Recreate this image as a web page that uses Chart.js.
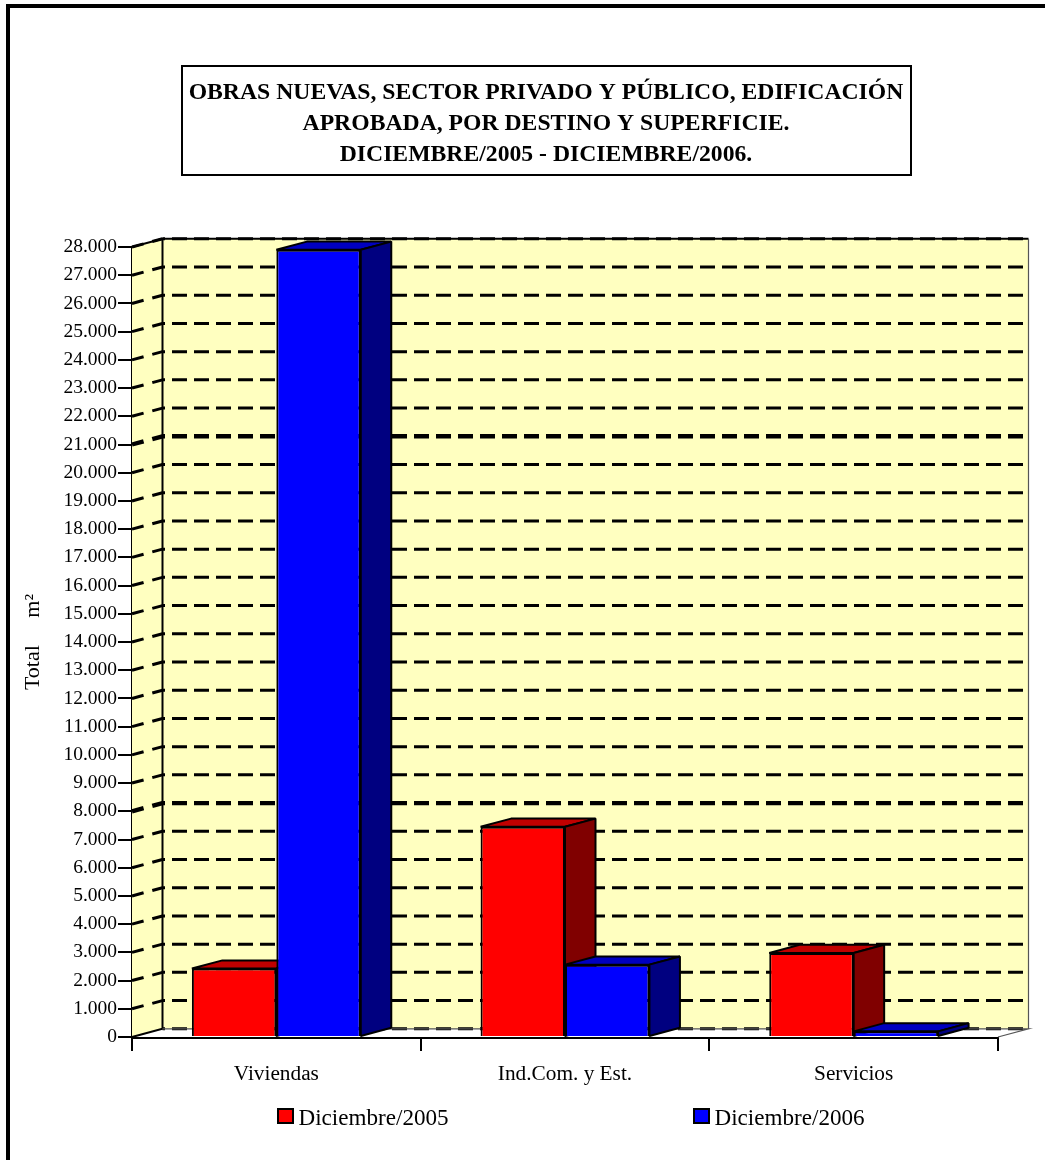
<!DOCTYPE html>
<html>
<head>
<meta charset="utf-8">
<script src="https://cdn.jsdelivr.net/npm/chart.js@4/dist/chart.umd.js"></script>
<style>
  html, body { margin: 0; padding: 0; background: #fff; }
  #wrap { width: 1045px; height: 1160px; }
</style>
</head>
<body>
<div id="wrap"><canvas id="chart" width="1045" height="1160"></canvas></div>
<script>
const categories = ['Viviendas', 'Ind.Com. y Est.', 'Servicios'];
const seriesNames = ['Diciembre/2005', 'Diciembre/2006'];
const valores2005 = [2425, 7450, 2980];
const valores2006 = [27900, 2565, 200];
const titleLines = [
  'OBRAS NUEVAS, SECTOR PRIVADO Y PÚBLICO, EDIFICACIÓN',
  'APROBADA, POR DESTINO Y SUPERFICIE.',
  'DICIEMBRE/2005 - DICIEMBRE/2006.'
];
const heavyGrid = [8000, 21000]; // estas dos lineas salen mas gruesas en el original

const FONT = '"Liberation Serif", "Times New Roman", serif';
const DX = 30.5, DY = 8.2;   // profundidad del efecto 3D
const faces = {
  red: { top: '#c00000', side: '#800000' },
  blue: { top: '#0000c0', side: '#000080' }
};

function poly(ctx, pts, fill, stroke, lw) {
  ctx.beginPath();
  pts.forEach((p, i) => i ? ctx.lineTo(p[0], p[1]) : ctx.moveTo(p[0], p[1]));
  ctx.closePath();
  if (fill) { ctx.fillStyle = fill; ctx.fill(); }
  if (stroke) { ctx.strokeStyle = stroke; ctx.lineWidth = lw; ctx.lineJoin = 'bevel'; ctx.stroke(); }
}

// marco exterior, caja del titulo y leyenda
const framePlugin = {
  id: 'frame',
  beforeDraw(chart) {
    const ctx = chart.ctx;
    ctx.save();
    ctx.fillStyle = '#fff';
    ctx.fillRect(0, 0, chart.width, chart.height);
    ctx.strokeStyle = '#000';
    ctx.lineWidth = 4;
    ctx.beginPath();
    ctx.moveTo(8, chart.height);
    ctx.lineTo(8, 6);
    ctx.lineTo(chart.width, 6);
    ctx.stroke();

    ctx.lineWidth = 2;
    ctx.strokeRect(182, 66, 729, 109);
    ctx.fillStyle = '#000';
    ctx.font = 'bold 23.7px ' + FONT;
    ctx.textAlign = 'center';
    ctx.textBaseline = 'alphabetic';
    titleLines.forEach((line, i) => ctx.fillText(line, 546, 99 + i * 31));

    // leyenda
    ctx.font = '23.1px ' + FONT;
    ctx.textAlign = 'left';
    const legendX = [278, 694];
    chart.data.datasets.forEach((ds, i) => {
      ctx.fillStyle = ds.backgroundColor;
      ctx.fillRect(legendX[i], 1109, 15, 14);
      ctx.strokeRect(legendX[i], 1109, 15, 14);
      ctx.fillStyle = '#000';
      ctx.fillText(ds.label, legendX[i] + 20.5, 1125);
    });
    ctx.restore();
  }
};

// paredes, suelo y rejilla en perspectiva
const wallsPlugin = {
  id: 'walls',
  beforeDatasetsDraw(chart) {
    const ctx = chart.ctx, a = chart.chartArea, y = chart.scales.y;
    ctx.save();
    // suelo
    poly(ctx, [[a.left, a.bottom], [a.left + DX, a.bottom - DY], [a.right + DX, a.bottom - DY], [a.right, a.bottom]], '#fff', null);
    // pared izquierda
    poly(ctx, [[a.left, a.bottom], [a.left + DX, a.bottom - DY], [a.left + DX, a.top - DY], [a.left, a.top]], '#ffffc0', null);
    // pared del fondo
    ctx.fillStyle = '#ffffc0';
    ctx.fillRect(a.left + DX, a.top - DY, a.right - a.left, a.bottom - a.top);

    y.ticks.forEach(t => {
      const py = y.getPixelForValue(t.value);
      ctx.strokeStyle = '#000';
      ctx.lineWidth = heavyGrid.includes(t.value) ? 4.4 : 3;
      if (t.value > 0) {
        ctx.setLineDash([12, 9]);
        ctx.beginPath();
        ctx.moveTo(a.left, py);
        ctx.lineTo(a.left + DX, py - DY);
        ctx.stroke();
      }
      ctx.setLineDash([15, 7]);
      ctx.lineDashOffset = 12.5;
      ctx.beginPath();
      ctx.moveTo(a.left + DX, py - DY);
      ctx.lineTo(a.right + DX, py - DY);
      ctx.stroke();
      ctx.lineDashOffset = 0;
    });
    ctx.setLineDash([]);

    // bordes de las paredes
    ctx.strokeStyle = '#000';
    ctx.lineWidth = 2;
    ctx.beginPath();
    ctx.moveTo(a.left, a.top);
    ctx.lineTo(a.left + DX, a.top - DY);
    ctx.lineTo(a.right + DX, a.top - DY);
    ctx.moveTo(a.left + DX, a.top - DY);
    ctx.lineTo(a.left + DX, a.bottom - DY);
    ctx.lineTo(a.left, a.bottom);
    ctx.stroke();
    ctx.strokeStyle = '#555';
    ctx.lineWidth = 1.2;
    ctx.beginPath();
    ctx.moveTo(a.left + DX, a.bottom - DY);
    ctx.lineTo(a.right + DX, a.bottom - DY);
    ctx.lineTo(a.right, a.bottom);
    ctx.moveTo(a.right + DX, a.bottom - DY);
    ctx.lineTo(a.right + DX, a.top - DY);
    ctx.stroke();

    // caras superior y lateral de las barras, la frontal la pinta Chart.js
    chart.data.labels.forEach((_, i) => {
      chart.data.datasets.forEach((ds, d) => {
        const bar = chart.getDatasetMeta(d).data[i];
        const half = bar.width / 2;
        const l = bar.x - half, r = bar.x + half, t = bar.y, b = bar.base;
        const f = d === 0 ? faces.red : faces.blue;
        poly(ctx, [[l, t], [l + DX, t - DY], [r + DX, t - DY], [r, t]], f.top, '#000', 2);
        poly(ctx, [[r, t], [r + DX, t - DY], [r + DX, b - DY], [r, b]], f.side, '#000', 2);
      });
    });
    ctx.restore();
  }
};

new Chart(document.getElementById('chart'), {
  type: 'bar',
  data: {
    labels: categories,
    datasets: [
      { label: seriesNames[0], data: valores2005, backgroundColor: '#ff0000', borderColor: '#000', borderWidth: 2 },
      { label: seriesNames[1], data: valores2006, backgroundColor: '#0000ff', borderColor: '#000', borderWidth: 2 }
    ]
  },
  plugins: [framePlugin, wallsPlugin],
  options: {
    responsive: false,
    animation: false,
    layout: { padding: { left: 0, right: 47, top: 247, bottom: 73 } },
    datasets: { bar: { categoryPercentage: 0.585, barPercentage: 1 } },
    scales: {
      x: {
        offset: true,
        grid: { offset: true, drawOnChartArea: false, color: '#000', lineWidth: 2, tickLength: 14 },
        border: { color: '#000', width: 3 },
        ticks: { color: '#000', font: { family: FONT, size: 21.3 }, padding: 11, maxRotation: 0 },
        afterFit: s => { s.height = 50; }
      },
      y: {
        min: 0, max: 28000,
        afterBuildTicks: s => { s.ticks = Array.from({ length: 29 }, (_, i) => ({ value: i * 1000 })); },
        grid: { drawOnChartArea: false, color: '#000', lineWidth: 2, tickLength: 14 },
        border: { color: '#000', width: 3 },
        ticks: {
          color: '#000', font: { family: FONT, size: 19.5 }, padding: 1, autoSkip: false,
          callback: v => v.toLocaleString('de-DE')
        },
        title: { display: true, text: 'Total     m²', color: '#000', font: { family: FONT, size: 22 }, padding: { top: 20, bottom: 0 } },
        afterFit: s => { s.width = 132; }
      }
    },
    plugins: {
      title: { display: false },
      legend: { display: false },
      tooltip: { enabled: false }
    }
  }
});
</script>
</body>
</html>
